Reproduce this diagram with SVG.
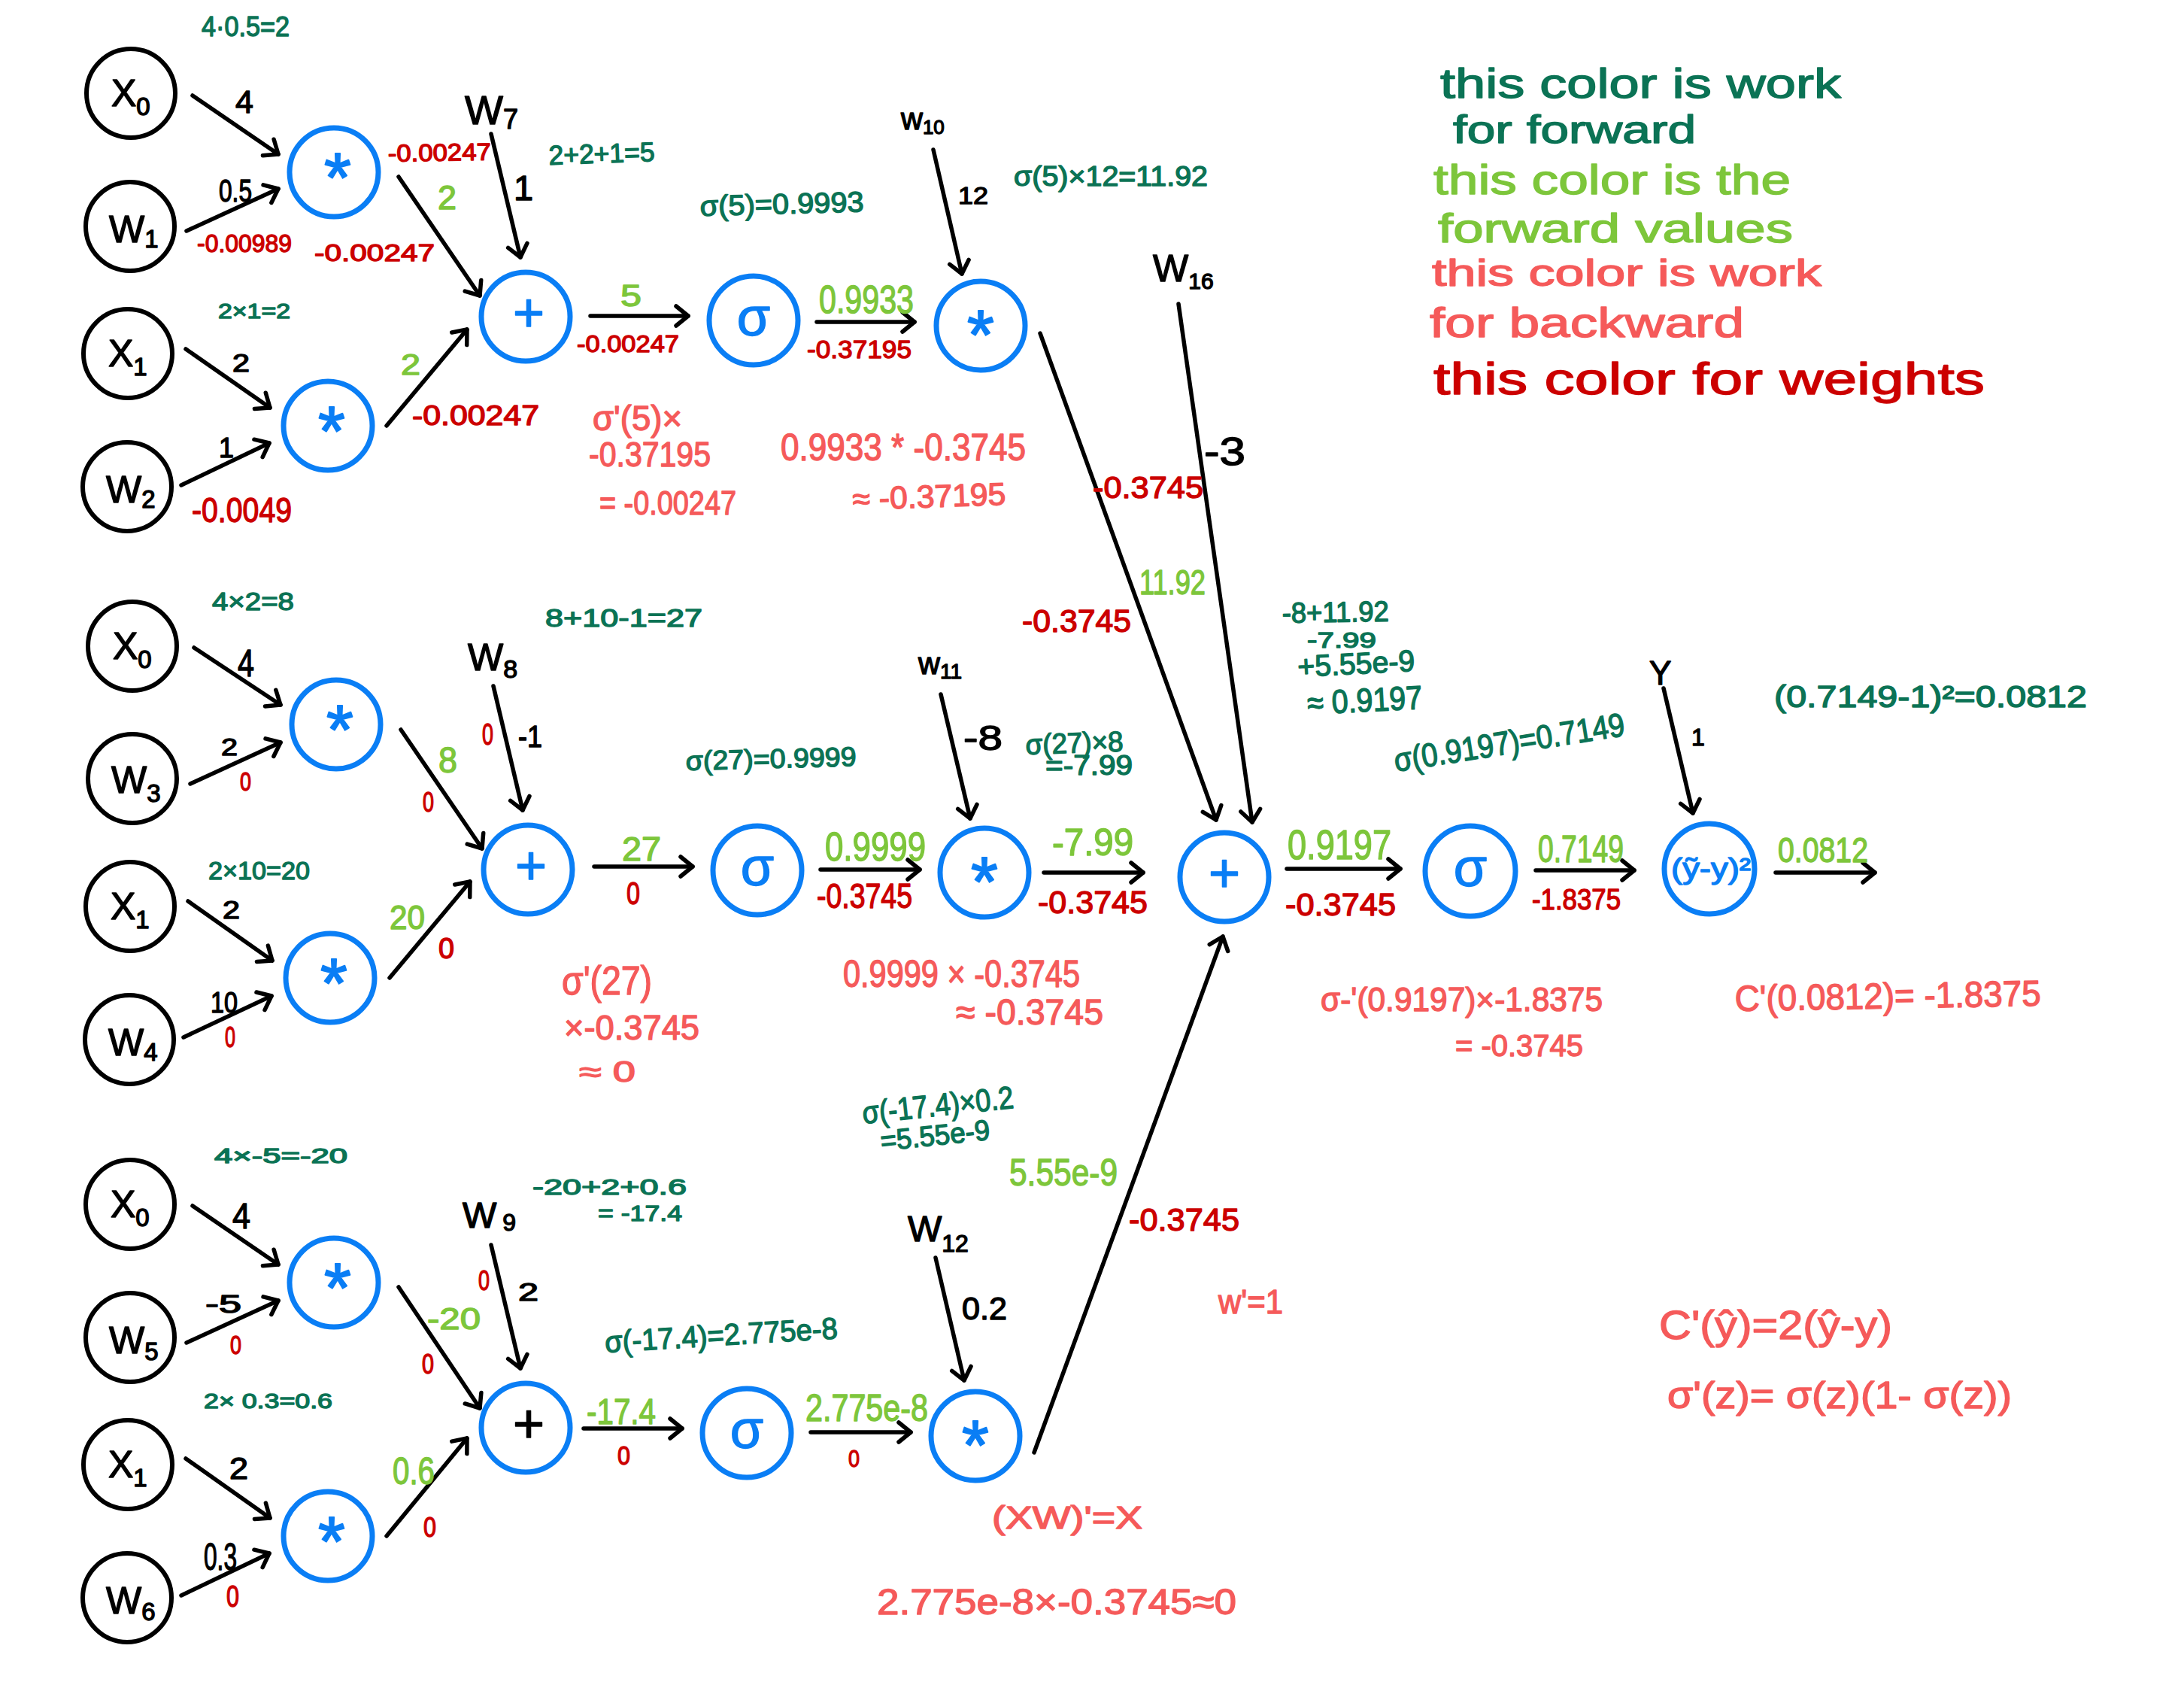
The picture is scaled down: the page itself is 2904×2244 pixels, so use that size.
<svg xmlns="http://www.w3.org/2000/svg" width="2904" height="2244" viewBox="0 0 2904 2244">
<style>
text{font-family:"Liberation Sans",Arial,sans-serif;stroke-linejoin:round;stroke-linecap:round;stroke-width:1.4px}
.k{fill:#000;stroke:#000}.g{fill:#0b7355;stroke:#0b7355}.l{fill:#7dc63b;stroke:#7dc63b}.c{fill:#f55a5a;stroke:#f55a5a}.r{fill:#cc0000;stroke:#cc0000}.b{fill:#0a7ef5;stroke:#0a7ef5}
.in{fill:#fff;stroke:#000;stroke-width:6}.op{fill:#fff;stroke:#0a7ef5;stroke-width:7}
.nm{font-size:50px}.nm tspan{font-size:33px}
.st{font-size:92px;text-anchor:middle;stroke-width:2px}.pl{font-size:72px;text-anchor:middle}.si{font-size:72px;text-anchor:middle}
.e{fill:none;stroke:#000;stroke-width:5.5;stroke-linecap:round;marker-end:url(#a)}
</style>
<defs><marker id="a" markerUnits="userSpaceOnUse" markerWidth="40" markerHeight="40" refX="20" refY="20" orient="auto" overflow="visible"><path d="M4 7L20 20L4 33" fill="none" stroke="#000" stroke-width="5.5" stroke-linecap="round" stroke-linejoin="round"/></marker></defs>
<rect width="2904" height="2244" fill="#fff"/>
<g id="connectors">
<line class="e" x1="256" y1="127" x2="370" y2="205"/><line class="e" x1="248" y1="307" x2="370" y2="251"/><line class="e" x1="530" y1="235" x2="638" y2="393"/><line class="e" x1="653" y1="178" x2="692" y2="342"/><line class="e" x1="247" y1="464" x2="359" y2="542"/><line class="e" x1="241" y1="645" x2="358" y2="589"/><line class="e" x1="514" y1="566" x2="621" y2="438"/><line class="e" x1="785" y1="420" x2="915" y2="420"/><line class="e" x1="1086" y1="428" x2="1216" y2="428"/><line class="e" x1="1241" y1="199" x2="1279" y2="364"/><line class="e" x1="1383" y1="443" x2="1617" y2="1090"/><line class="e" x1="1567" y1="404" x2="1665" y2="1093"/>
<line class="e" x1="258" y1="861" x2="373" y2="937"/><line class="e" x1="253" y1="1042" x2="373" y2="987"/><line class="e" x1="533" y1="970" x2="641" y2="1128"/><line class="e" x1="656" y1="912" x2="695" y2="1077"/><line class="e" x1="250" y1="1198" x2="362" y2="1277"/><line class="e" x1="244" y1="1379" x2="361" y2="1324"/><line class="e" x1="518" y1="1300" x2="625" y2="1172"/><line class="e" x1="790" y1="1152" x2="921" y2="1152"/><line class="e" x1="1091" y1="1156" x2="1223" y2="1156"/><line class="e" x1="1251" y1="923" x2="1290" y2="1088"/><line class="e" x1="1388" y1="1160" x2="1520" y2="1160"/><line class="e" x1="1711" y1="1155" x2="1862" y2="1155"/><line class="e" x1="1375" y1="1931" x2="1626" y2="1245"/><line class="e" x1="2042" y1="1157" x2="2173" y2="1157"/><line class="e" x1="2212" y1="915" x2="2251" y2="1081"/><line class="e" x1="2361" y1="1160" x2="2493" y2="1160"/>
<line class="e" x1="256" y1="1603" x2="370" y2="1681"/><line class="e" x1="248" y1="1785" x2="370" y2="1729"/><line class="e" x1="530" y1="1711" x2="638" y2="1872"/><line class="e" x1="653" y1="1655" x2="692" y2="1819"/><line class="e" x1="247" y1="1939" x2="359" y2="2018"/><line class="e" x1="241" y1="2121" x2="358" y2="2065"/><line class="e" x1="514" y1="2042" x2="621" y2="1912"/><line class="e" x1="776" y1="1899" x2="907" y2="1899"/><line class="e" x1="1078" y1="1904" x2="1211" y2="1904"/><line class="e" x1="1244" y1="1672" x2="1282" y2="1835"/>
</g>
<g id="n-x0a"><circle class="in" cx="174" cy="124" r="59"/><text class="k nm" x="148" y="141">X<tspan dy="12">0</tspan></text></g>
<g id="n-w1"><circle class="in" cx="173" cy="301" r="59"/><text class="k nm" x="145" y="322">W<tspan dy="7">1</tspan></text></g>
<g id="n-x1a"><circle class="in" cx="170" cy="470" r="59"/><text class="k nm" x="144" y="487">X<tspan dy="12">1</tspan></text></g>
<g id="n-w2"><circle class="in" cx="169" cy="647" r="59"/><text class="k nm" x="141" y="668">W<tspan dy="7">2</tspan></text></g>
<g id="n-m1"><circle class="op" cx="444" cy="229" r="59"/><text class="b st" x="449" y="268">*</text></g>
<g id="n-m2"><circle class="op" cx="436" cy="566" r="59"/><text class="b st" x="441" y="605">*</text></g>
<g id="n-p1"><circle class="op" cx="699" cy="421" r="59"/><text class="b pl" x="703" y="440">+</text></g>
<g id="n-s1"><circle class="op" cx="1002" cy="426" r="59"/><text class="b si" x="1002" y="446">σ</text></g>
<g id="n-m3"><circle class="op" cx="1304" cy="433" r="59"/><text class="b st" x="1304" y="477">*</text></g>
<g id="n-x0b"><circle class="in" cx="176" cy="859" r="59"/><text class="k nm" x="150" y="876">X<tspan dy="12">0</tspan></text></g>
<g id="n-w3"><circle class="in" cx="176" cy="1035" r="59"/><text class="k nm" x="148" y="1054">W<tspan dy="12">3</tspan></text></g>
<g id="n-x1b"><circle class="in" cx="173" cy="1205" r="59"/><text class="k nm" x="147" y="1222">X<tspan dy="12">1</tspan></text></g>
<g id="n-w4"><circle class="in" cx="172" cy="1382" r="59"/><text class="k nm" x="144" y="1403">W<tspan dy="7">4</tspan></text></g>
<g id="n-m4"><circle class="op" cx="447" cy="963" r="59"/><text class="b st" x="452" y="1002">*</text></g>
<g id="n-m5"><circle class="op" cx="439" cy="1300" r="59"/><text class="b st" x="444" y="1339">*</text></g>
<g id="n-p2"><circle class="op" cx="702" cy="1156" r="59"/><text class="b pl" x="706" y="1175">+</text></g>
<g id="n-s2"><circle class="op" cx="1007" cy="1157" r="59"/><text class="b si" x="1007" y="1177">σ</text></g>
<g id="n-m6"><circle class="op" cx="1309" cy="1160" r="59"/><text class="b st" x="1309" y="1204">*</text></g>
<g id="n-p4"><circle class="op" cx="1628" cy="1166" r="59"/><text class="b pl" x="1628" y="1185">+</text></g>
<g id="n-s4"><circle class="op" cx="1955" cy="1158" r="60"/><text class="b si" x="1955" y="1178">σ</text></g>
<g id="n-loss"><circle class="op" cx="2273" cy="1155" r="60"/><text class="b" x="2222" y="1168" font-size="38" textLength="106" lengthAdjust="spacingAndGlyphs">(ỹ-y)²</text></g>
<g id="n-x0c"><circle class="in" cx="173" cy="1601" r="59"/><text class="k nm" x="147" y="1618">X<tspan dy="12">0</tspan></text></g>
<g id="n-w5"><circle class="in" cx="173" cy="1778" r="59"/><text class="k nm" x="145" y="1799">W<tspan dy="9">5</tspan></text></g>
<g id="n-x1c"><circle class="in" cx="170" cy="1947" r="59"/><text class="k nm" x="144" y="1964">X<tspan dy="12">1</tspan></text></g>
<g id="n-w6"><circle class="in" cx="169" cy="2124" r="59"/><text class="k nm" x="141" y="2145">W<tspan dy="9">6</tspan></text></g>
<g id="n-m7"><circle class="op" cx="444" cy="1705" r="59"/><text class="b st" x="449" y="1744">*</text></g>
<g id="n-m8"><circle class="op" cx="436" cy="2042" r="59"/><text class="b st" x="441" y="2081">*</text></g>
<g id="n-p3"><circle class="op" cx="699" cy="1898" r="59"/><text class="k pl" x="703" y="1917">+</text></g>
<g id="n-s3"><circle class="op" cx="993" cy="1905" r="59"/><text class="b si" x="993" y="1925">σ</text></g>
<g id="n-m9"><circle class="op" cx="1297" cy="1909" r="59"/><text class="b st" x="1297" y="1953">*</text></g>
<g id="weights">
<text class="k" x="618" y="165" font-size="54">W<tspan font-size="36" dy="6">7</tspan></text>
<text class="k" x="1198" y="172" font-size="40">w<tspan font-size="26" dy="6">10</tspan></text>
<text class="k" x="1533" y="374" font-size="50">W<tspan font-size="30" dy="10">16</tspan></text>
<text class="k" x="622" y="891" font-size="50">W<tspan font-size="34" dy="10">8</tspan></text>
<text class="k" x="1221" y="896" font-size="40">w<tspan font-size="28" dy="6">11</tspan></text>
<text class="k" x="615" y="1632" font-size="48">W<tspan font-size="32" dy="4" dx="8">9</tspan></text>
<text class="k" x="1207" y="1650" font-size="48">W<tspan font-size="32" dy="14">12</tspan></text>
<text class="k" x="2193" y="910" font-size="44">Y</text>
</g>
<g id="black-labels">
<text class="k" x="313" y="150" font-size="43">4</text><text class="k" x="291" y="268" font-size="43" textLength="44" lengthAdjust="spacingAndGlyphs">0.5</text><text class="k" x="683" y="266" font-size="47">1</text><text class="k" x="309" y="494" font-size="33" textLength="23" lengthAdjust="spacingAndGlyphs">2</text><text class="k" x="291" y="608" font-size="36">1</text><text class="k" x="1274" y="271" font-size="32" textLength="40" lengthAdjust="spacingAndGlyphs">12</text><text class="k" x="1601" y="618" font-size="52" textLength="55" lengthAdjust="spacingAndGlyphs">-3</text>
<text class="k" x="316" y="899" font-size="50" textLength="22" lengthAdjust="spacingAndGlyphs">4</text><text class="k" x="689" y="993" font-size="40" textLength="32" lengthAdjust="spacingAndGlyphs">-1</text><text class="k" x="294" y="1004" font-size="32" textLength="22" lengthAdjust="spacingAndGlyphs">2</text><text class="k" x="296" y="1221" font-size="33" textLength="23" lengthAdjust="spacingAndGlyphs">2</text><text class="k" x="280" y="1346" font-size="38" textLength="36" lengthAdjust="spacingAndGlyphs">10</text><text class="k" x="1281" y="997" font-size="46" textLength="52" lengthAdjust="spacingAndGlyphs">-8</text><text class="k" x="2249" y="991" font-size="32">1</text>
<text class="k" x="309" y="1633" font-size="48" textLength="24" lengthAdjust="spacingAndGlyphs">4</text><text class="k" x="689" y="1729" font-size="34" textLength="27" lengthAdjust="spacingAndGlyphs">2</text><text class="k" x="273" y="1745" font-size="34" textLength="48" lengthAdjust="spacingAndGlyphs">-5</text><text class="k" x="305" y="1966" font-size="40" textLength="25" lengthAdjust="spacingAndGlyphs">2</text><text class="k" x="271" y="2087" font-size="50" textLength="44" lengthAdjust="spacingAndGlyphs">0.3</text><text class="k" x="1279" y="1754" font-size="42" textLength="60" lengthAdjust="spacingAndGlyphs">0.2</text>
</g>
<g id="forward-work">
<text class="g" x="268" y="48" font-size="36" textLength="117" lengthAdjust="spacingAndGlyphs">4·0.5=2</text>
<text class="g" x="730" y="219" font-size="36" textLength="141" lengthAdjust="spacingAndGlyphs" transform="rotate(-2 730 219)">2+2+1=5</text>
<text class="g" x="290" y="423" font-size="28" textLength="96" lengthAdjust="spacingAndGlyphs">2×1=2</text>
<text class="g" x="931" y="287" font-size="38" textLength="218" lengthAdjust="spacingAndGlyphs" transform="rotate(-1.5 931 287)">σ(5)=0.9993</text>
<text class="g" x="1348" y="247" font-size="36" textLength="258" lengthAdjust="spacingAndGlyphs">σ(5)×12=11.92</text>
<text class="g" x="282" y="811" font-size="34" textLength="109" lengthAdjust="spacingAndGlyphs">4×2=8</text>
<text class="g" x="725" y="833" font-size="34" textLength="209" lengthAdjust="spacingAndGlyphs">8+10-1=27</text>
<text class="g" x="277" y="1169" font-size="34" textLength="135" lengthAdjust="spacingAndGlyphs">2×10=20</text>
<text class="g" x="912" y="1024" font-size="36" textLength="227" lengthAdjust="spacingAndGlyphs" transform="rotate(-1.5 912 1024)">σ(27)=0.9999</text>
<text class="g" x="1364" y="1003" font-size="38" textLength="130" lengthAdjust="spacingAndGlyphs" transform="rotate(-2 1364 1003)">σ(27)×8</text>
<text class="g" x="1390" y="1030" font-size="36" textLength="116" lengthAdjust="spacingAndGlyphs">=-7.99</text>
<text class="g" x="1705" y="828" font-size="38" textLength="142" lengthAdjust="spacingAndGlyphs" transform="rotate(-1 1705 828)">-8+11.92</text>
<text class="g" x="1738" y="861" font-size="30" textLength="92" lengthAdjust="spacingAndGlyphs">-7.99</text>
<text class="g" x="1726" y="900" font-size="40" textLength="156" lengthAdjust="spacingAndGlyphs" transform="rotate(-3 1726 900)">+5.55e-9</text>
<text class="g" x="1739" y="950" font-size="44" textLength="153" lengthAdjust="spacingAndGlyphs" transform="rotate(-3 1739 950)">≈ 0.9197</text>
<text class="g" x="2359" y="940" font-size="40" textLength="416" lengthAdjust="spacingAndGlyphs">(0.7149-1)²=0.0812</text>
<text class="g" x="1856" y="1026" font-size="44" textLength="310" lengthAdjust="spacingAndGlyphs" transform="rotate(-9 1856 1026)">σ(0.9197)=0.7149</text>
<text class="g" x="285" y="1546" font-size="27" textLength="177" lengthAdjust="spacingAndGlyphs">4×-5=-20</text>
<text class="g" x="708" y="1588" font-size="30" textLength="205" lengthAdjust="spacingAndGlyphs">-20+2+0.6</text>
<text class="g" x="795" y="1623" font-size="30" textLength="112" lengthAdjust="spacingAndGlyphs">= -17.4</text>
<text class="g" x="271" y="1872" font-size="28" textLength="171" lengthAdjust="spacingAndGlyphs">2× 0.3=0.6</text>
<text class="g" x="805" y="1798" font-size="40" textLength="310" lengthAdjust="spacingAndGlyphs" transform="rotate(-3.5 805 1798)">σ(-17.4)=2.775e-8</text>
<text class="g" x="1148" y="1494" font-size="42" textLength="202" lengthAdjust="spacingAndGlyphs" transform="rotate(-6 1148 1494)">σ(-17.4)×0.2</text>
<text class="g" x="1172" y="1530" font-size="38" textLength="146" lengthAdjust="spacingAndGlyphs" transform="rotate(-6 1172 1530)">=5.55e-9</text>
</g>
<g id="forward-values">
<text class="l" x="582" y="278" font-size="44" textLength="25" lengthAdjust="spacingAndGlyphs">2</text>
<text class="l" x="825" y="407" font-size="40" textLength="28" lengthAdjust="spacingAndGlyphs">5</text>
<text class="l" x="533" y="498" font-size="38" textLength="26" lengthAdjust="spacingAndGlyphs">2</text>
<text class="l" x="1089" y="416" font-size="52" textLength="126" lengthAdjust="spacingAndGlyphs">0.9933</text>
<text class="l" x="1515" y="790" font-size="46" textLength="88" lengthAdjust="spacingAndGlyphs">11.92</text>
<text class="l" x="583" y="1027" font-size="48" textLength="25" lengthAdjust="spacingAndGlyphs">8</text>
<text class="l" x="827" y="1144" font-size="44" textLength="52" lengthAdjust="spacingAndGlyphs">27</text>
<text class="l" x="518" y="1235" font-size="44" textLength="47" lengthAdjust="spacingAndGlyphs">20</text>
<text class="l" x="1097" y="1144" font-size="54" textLength="134" lengthAdjust="spacingAndGlyphs">0.9999</text>
<text class="l" x="1399" y="1137" font-size="50" textLength="108" lengthAdjust="spacingAndGlyphs">-7.99</text>
<text class="l" x="1712" y="1142" font-size="56" textLength="138" lengthAdjust="spacingAndGlyphs">0.9197</text>
<text class="l" x="2045" y="1146" font-size="50" textLength="114" lengthAdjust="spacingAndGlyphs">0.7149</text>
<text class="l" x="2364" y="1146" font-size="46" textLength="120" lengthAdjust="spacingAndGlyphs">0.0812</text>
<text class="l" x="568" y="1767" font-size="40" textLength="71" lengthAdjust="spacingAndGlyphs">-20</text>
<text class="l" x="780" y="1893" font-size="48" textLength="92" lengthAdjust="spacingAndGlyphs">-17.4</text>
<text class="l" x="522" y="1973" font-size="50" textLength="56" lengthAdjust="spacingAndGlyphs">0.6</text>
<text class="l" x="1342" y="1576" font-size="50" textLength="144" lengthAdjust="spacingAndGlyphs">5.55e-9</text>
<text class="l" x="1071" y="1889" font-size="50" textLength="163" lengthAdjust="spacingAndGlyphs">2.775e-8</text>
</g>
<g id="weight-gradients">
<text class="r" x="262" y="335" font-size="34" textLength="126" lengthAdjust="spacingAndGlyphs">-0.00989</text>
<text class="r" x="516" y="215" font-size="32" textLength="137" lengthAdjust="spacingAndGlyphs" transform="rotate(-1 516 215)">-0.00247</text>
<text class="r" x="418" y="347" font-size="32" textLength="160" lengthAdjust="spacingAndGlyphs">-0.00247</text>
<text class="r" x="767" y="468" font-size="32" textLength="136" lengthAdjust="spacingAndGlyphs">-0.00247</text>
<text class="r" x="548" y="565" font-size="36" textLength="169" lengthAdjust="spacingAndGlyphs">-0.00247</text>
<text class="r" x="255" y="694" font-size="46" textLength="133" lengthAdjust="spacingAndGlyphs">-0.0049</text>
<text class="r" x="1073" y="476" font-size="34" textLength="139" lengthAdjust="spacingAndGlyphs">-0.37195</text>
<text class="r" x="1453" y="662" font-size="40" textLength="147" lengthAdjust="spacingAndGlyphs">-0.3745</text>
<text class="r" x="1359" y="840" font-size="42" textLength="145" lengthAdjust="spacingAndGlyphs">-0.3745</text>
<text class="r" x="641" y="990" font-size="40" textLength="15" lengthAdjust="spacingAndGlyphs">0</text>
<text class="r" x="319" y="1051" font-size="35" textLength="15" lengthAdjust="spacingAndGlyphs">0</text>
<text class="r" x="562" y="1079" font-size="36" textLength="15" lengthAdjust="spacingAndGlyphs">0</text>
<text class="r" x="833" y="1202" font-size="43" textLength="18" lengthAdjust="spacingAndGlyphs">0</text>
<text class="r" x="583" y="1274" font-size="38" textLength="21" lengthAdjust="spacingAndGlyphs">0</text>
<text class="r" x="299" y="1392" font-size="38" textLength="14" lengthAdjust="spacingAndGlyphs">0</text>
<text class="r" x="1086" y="1207" font-size="46" textLength="127" lengthAdjust="spacingAndGlyphs">-0.3745</text>
<text class="r" x="1380" y="1214" font-size="42" textLength="146" lengthAdjust="spacingAndGlyphs">-0.3745</text>
<text class="r" x="1709" y="1217" font-size="42" textLength="147" lengthAdjust="spacingAndGlyphs">-0.3745</text>
<text class="r" x="2037" y="1209" font-size="38" textLength="118" lengthAdjust="spacingAndGlyphs">-1.8375</text>
<text class="r" x="636" y="1715" font-size="36" textLength="15" lengthAdjust="spacingAndGlyphs">0</text>
<text class="r" x="306" y="1800" font-size="35" textLength="15" lengthAdjust="spacingAndGlyphs">0</text>
<text class="r" x="561" y="1826" font-size="36" textLength="16" lengthAdjust="spacingAndGlyphs">0</text>
<text class="r" x="821" y="1947" font-size="35" textLength="17" lengthAdjust="spacingAndGlyphs">0</text>
<text class="r" x="563" y="2043" font-size="37" textLength="17" lengthAdjust="spacingAndGlyphs">0</text>
<text class="r" x="301" y="2136" font-size="40" textLength="17" lengthAdjust="spacingAndGlyphs">0</text>
<text class="r" x="1501" y="1636" font-size="42" textLength="147" lengthAdjust="spacingAndGlyphs">-0.3745</text>
<text class="r" x="1128" y="1950" font-size="32" textLength="15" lengthAdjust="spacingAndGlyphs">0</text>
</g>
<g id="backward-work">
<text class="c" x="788" y="572" font-size="46" textLength="119" lengthAdjust="spacingAndGlyphs">σ'(5)×</text>
<text class="c" x="783" y="620" font-size="46" textLength="162" lengthAdjust="spacingAndGlyphs">-0.37195</text>
<text class="c" x="797" y="684" font-size="44" textLength="182" lengthAdjust="spacingAndGlyphs">= -0.00247</text>
<text class="c" x="1038" y="612" font-size="50" textLength="326" lengthAdjust="spacingAndGlyphs">0.9933 * -0.3745</text>
<text class="c" x="1134" y="678" font-size="42" textLength="204" lengthAdjust="spacingAndGlyphs" transform="rotate(-2 1134 678)">≈ -0.37195</text>
<text class="c" x="747" y="1322" font-size="54" textLength="120" lengthAdjust="spacingAndGlyphs">σ'(27)</text>
<text class="c" x="750" y="1382" font-size="46" textLength="180" lengthAdjust="spacingAndGlyphs">×-0.3745</text>
<text class="c" x="770" y="1438" font-size="38" textLength="75" lengthAdjust="spacingAndGlyphs">≈ 0</text>
<text class="c" x="1121" y="1312" font-size="50" textLength="315" lengthAdjust="spacingAndGlyphs">0.9999 × -0.3745</text>
<text class="c" x="1271" y="1362" font-size="48" textLength="196" lengthAdjust="spacingAndGlyphs">≈ -0.3745</text>
<text class="c" x="1756" y="1344" font-size="44" textLength="375" lengthAdjust="spacingAndGlyphs">σ-'(0.9197)×-1.8375</text>
<text class="c" x="1935" y="1404" font-size="40" textLength="170" lengthAdjust="spacingAndGlyphs">= -0.3745</text>
<text class="c" x="2307" y="1344" font-size="48" textLength="407" lengthAdjust="spacingAndGlyphs" transform="rotate(-1 2307 1344)">C'(0.0812)= -1.8375</text>
<text class="c" x="1620" y="1746" font-size="44" textLength="86" lengthAdjust="spacingAndGlyphs">w'=1</text>
<text class="c" x="1319" y="2032" font-size="42" textLength="200" lengthAdjust="spacingAndGlyphs">(XW)'=X</text>
<text class="c" x="1166" y="2146" font-size="48" textLength="478" lengthAdjust="spacingAndGlyphs">2.775e-8×-0.3745≈0</text>
<text class="c" x="2206" y="1780" font-size="54" textLength="310" lengthAdjust="spacingAndGlyphs">C'(ŷ)=2(ŷ-y)</text>
<text class="c" x="2217" y="1872" font-size="50" textLength="458" lengthAdjust="spacingAndGlyphs">σ'(z)= σ(z)(1- σ(z))</text>
</g>
<g id="legend">
<text class="g" x="1915" y="130" font-size="56" textLength="533" lengthAdjust="spacingAndGlyphs">this color is work</text>
<text class="g" x="1932" y="190" font-size="52" textLength="323" lengthAdjust="spacingAndGlyphs">for forward</text>
<text class="l" x="1906" y="258" font-size="56" textLength="475" lengthAdjust="spacingAndGlyphs">this color is the</text>
<text class="l" x="1912" y="322" font-size="54" textLength="472" lengthAdjust="spacingAndGlyphs">forward values</text>
<text class="c" x="1904" y="380" font-size="50" textLength="518" lengthAdjust="spacingAndGlyphs">this color is work</text>
<text class="c" x="1901" y="448" font-size="56" textLength="418" lengthAdjust="spacingAndGlyphs">for backward</text>
<text class="r" x="1906" y="524" font-size="60" textLength="733" lengthAdjust="spacingAndGlyphs">this color for weights</text>
</g>
</svg>
